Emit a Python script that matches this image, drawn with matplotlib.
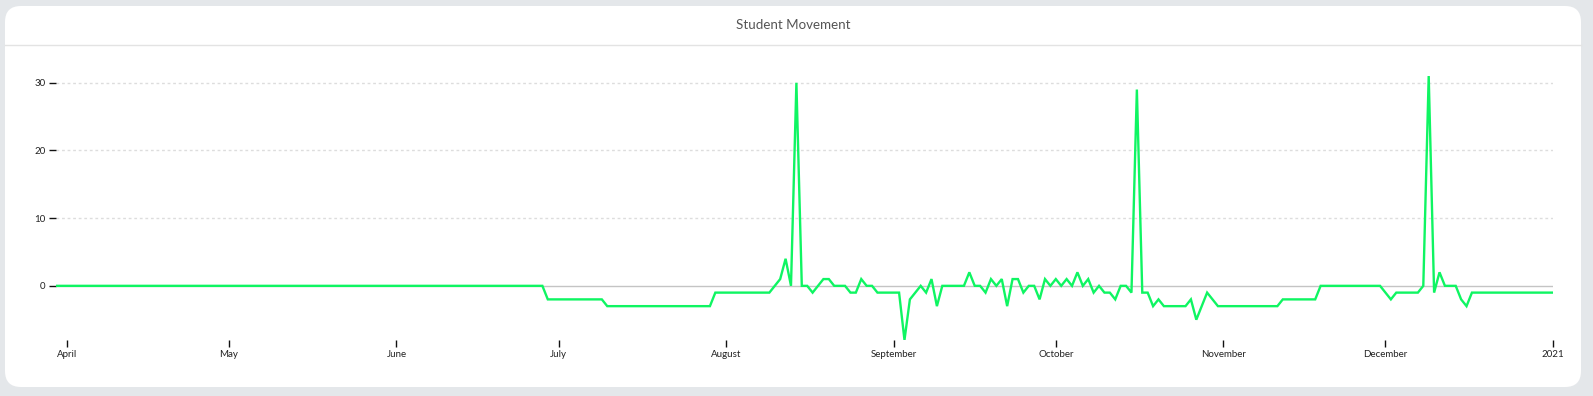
import matplotlib
matplotlib.use("Agg")
import matplotlib.pyplot as plt
import matplotlib.dates as mdates
from matplotlib.patches import FancyBboxPatch
from matplotlib.lines import Line2D
from matplotlib.transforms import IdentityTransform
import pandas as pd

# ---------------- data ----------------
title = "Student Movement"
start_date = "2020-03-30"
movement = (
    [0] * 91            # Mar 30 .. Jun 28
    + [-2] * 11         # Jun 29 .. Jul 9
    + [-3] * 20         # Jul 10 .. Jul 29
    + [-1] * 11         # Jul 30 .. Aug 9
    + [0, 1, 4, 0, 30, 0, 0, -1, 0, 1, 1, 0, 0, 0, -1, -1, 1, 0, 0]   # Aug 10 .. Aug 28
    + [-1, -1, -1, -1, -1]                                            # Aug 29 .. Sep 2
    + [-8, -2, -1, 0, -1, 1, -3]                                      # Sep 3 .. Sep 9
    + [0, 0, 0, 0, 0]                                                 # Sep 10 .. Sep 14
    + [2, 0, 0, -1, 1, 0, 1, -3, 1, 1, -1, 0, 0, -2, 1, 0, 1, 0, 1, 0, 2, 0, 1, -1,
       0, -1, -1, -2, 0, 0, -1]                                       # Sep 15 .. Oct 15
    + [29, -1, -1, -3, -2]                                            # Oct 16 .. Oct 20
    + [-3, -3, -3, -3, -3]                                            # Oct 21 .. Oct 25
    + [-2, -5, -3, -1, -2]                                            # Oct 26 .. Oct 30
    + [-3] * 12         # Oct 31 .. Nov 11
    + [-2] * 7          # Nov 12 .. Nov 18
    + [0] * 12          # Nov 19 .. Nov 30
    + [-1, -2, -1, -1, -1, -1, -1, 0, 31, -1, 2, 0, 0, 0, -2, -3]     # Dec 1 .. Dec 16
    + [-1] * 16         # Dec 17 .. Jan 1
)
y_ticks = [0, 10, 20, 30]
x_tick_dates = ["2020-04-01", "2020-05-01", "2020-06-01", "2020-07-01", "2020-08-01",
                "2020-09-01", "2020-10-01", "2020-11-01", "2020-12-01", "2021-01-01"]
x_tick_labels = ["April", "May", "June", "July", "August", "September",
                 "October", "November", "December", "2021"]

dates = pd.date_range(start_date, periods=len(movement), freq="D")

# ---------------- figure ----------------
W, H = 1593, 396
DPI = 100
plt.rcParams["font.family"] = ["Lato", "DejaVu Sans"]
fig = plt.figure(figsize=(W / DPI, H / DPI), dpi=DPI, facecolor="#e4e7ea")

# white rounded card
card = FancyBboxPatch((5, H - 387), 1576, 381,
                      boxstyle="round,pad=0,rounding_size=16",
                      transform=IdentityTransform(),
                      facecolor="white", edgecolor="none", zorder=0)
fig.add_artist(card)
# header divider
fig.add_artist(Line2D([5 / W, 1581 / W], [1 - 44.5 / H, 1 - 44.5 / H],
                      transform=fig.transFigure, color="#e3e3e3", lw=1.0, zorder=1))
fig.text(793 / W, 1 - 25 / H, title, ha="center", va="center",
         fontsize=9.6, color="#555555")

# axes
left, right = 56 / W, 1553 / W
bottom, top = (H - 340) / H, (H - 76) / H
ax = fig.add_axes([left, bottom, right - left, top - bottom])
ax.set_facecolor("none")

ax.plot(dates, movement, color="#0ff562", lw=1.7, solid_joinstyle="miter", zorder=3)

ax.set_xlim(dates[0], dates[-1])
ax.set_ylim(min(movement), max(movement))

for s in ax.spines.values():
    s.set_visible(False)

ax.set_yticks(y_ticks)
ax.set_yticklabels([str(v) for v in y_ticks])
ax.set_xticks(pd.to_datetime(x_tick_dates))
ax.set_xticklabels(x_tick_labels)

ax.tick_params(axis="both", which="both", direction="out", length=5, width=1,
               color="#111111", labelsize=7, labelcolor="#222222", pad=2.5)

for v in y_ticks:
    if v == 0:
        ax.axhline(v, color="#c4c4c4", lw=1, zorder=1)
    else:
        ax.axhline(v, color="#dddddd", lw=1, linestyle=(0, (2, 2)), zorder=1)

fig.savefig("out.png", dpi=DPI, facecolor=fig.get_facecolor())
